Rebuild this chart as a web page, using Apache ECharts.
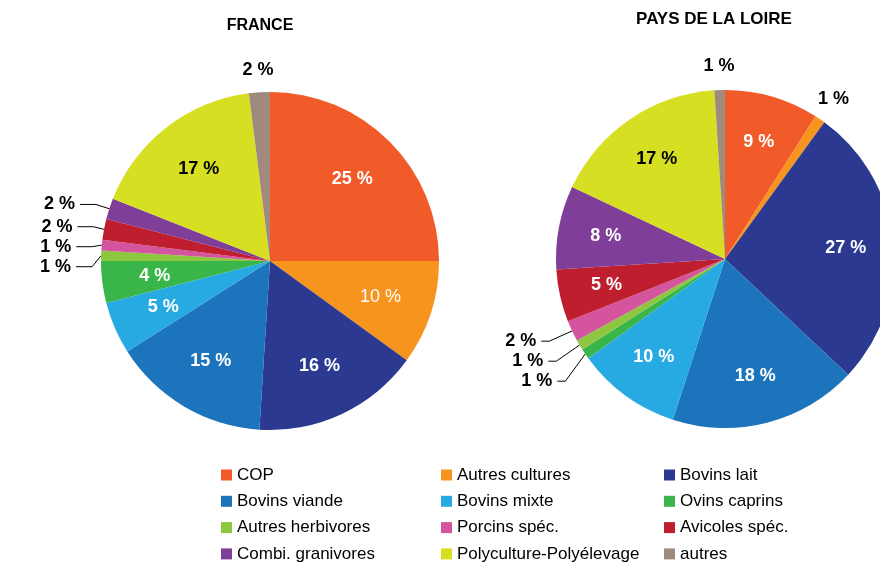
<!DOCTYPE html>
<html><head><meta charset="utf-8">
<script src="https://cdn.jsdelivr.net/npm/echarts@6/dist/echarts.min.js"></script>
<style>html,body{margin:0;padding:0;background:#fff}#c{width:880px;height:562px}</style>
</head><body><div id="c"></div>
<script>
const categories = ['COP','Autres cultures','Bovins lait','Bovins viande','Bovins mixte','Ovins caprins','Autres herbivores','Porcins spéc.','Avicoles spéc.','Combi. granivores','Polyculture-Polyélevage','autres'];
const franceValues = [25,10,16,15,5,4,1,1,2,2,17,2];
const paysLoireValues = [9,1,27,18,10,1,1,2,5,8,17,1];
const titles = ['FRANCE','PAYS DE LA LOIRE'];
const colors = ['#F15A29','#F7941D','#2B3990','#1C75BC','#27AAE1','#39B54A','#8DC63F','#D4559E','#BE1E2D','#7F3F98','#D7DF23','#9E8B7E'];

const FONT = '"Liberation Sans", Arial, sans-serif';
const R = 169;
const centers = [[270,261],[725,259]];

// classify each slice's label placement from its value and angle
function placement(vals){
  const total = vals.reduce((a,b)=>a+b,0);
  let acc = 0;
  return vals.map(v=>{
    const mid = (acc + v/2)/total*360; acc += v;
    if (v > 2) return 'inside';
    const fromTop = Math.min(mid, 360-mid);
    return fromTop < 60 ? 'top' : 'side';
  });
}

function mainSeries(vals, center, len1, len2){
  const pl = placement(vals);
  return {
    type:'pie', center:center, radius:[0,R], startAngle:90, clockwise:true,
    avoidLabelOverlap:true, silent:true,
    itemStyle:{borderWidth:0},
    labelLine:{show:true, length:len1, length2:len2, lineStyle:{color:'#000', width:1}},
    data: vals.map((v,i)=>({
      name:categories[i], value:v, itemStyle:{color:colors[i]},
      label:{show: pl[i]==='side'}, labelLine:{show: pl[i]==='side'}
    })),
    label:{position:'outside', formatter:'{c} %', color:'#000', fontWeight:'bold', fontSize:18, fontFamily:FONT}
  };
}
function overlaySeries(vals, center, kind, labelR){
  const pl = placement(vals);
  return {
    type:'pie', center:center, radius:[0, 2*labelR], startAngle:90, clockwise:true,
    silent:true, itemStyle:{color:'rgba(0,0,0,0)'}, labelLine:{show:false},
    data: vals.map((v,i)=>({
      name:categories[i], value:v,
      label:{show: pl[i]===kind,
        color: (kind==='top' || categories[i]==='Polyculture-Polyélevage') ? '#000' : '#fff',
        fontWeight: (kind==='inside' && categories[i]==='Autres cultures') ? 'normal' : 'bold'}
    })),
    label:{position:'inside', formatter:'{c} %', fontSize:18, fontFamily:FONT}
  };
}
const cols = [[0,3,6,9],[1,4,7,10],[2,5,8,11]];
const colLeft = [216,436,659];
const legends = cols.map((idx,k)=>({
  orient:'vertical', left:colLeft[k], top:461, height:120, itemWidth:11, itemHeight:11, itemGap:8.3,
  icon:'rect', selectedMode:false,
  textStyle:{fontSize:17, fontFamily:FONT, color:'#000', lineHeight:18},
  data: idx.map(i=>({name:categories[i], itemStyle:{color:colors[i]}}))
}));

const chart = echarts.init(document.getElementById('c'));
chart.setOption({
  animation:false,
  graphic:[
    {type:'text', x:260, y:26, style:{text:titles[0], textAlign:'center', textVerticalAlign:'middle', font:'bold 16px '+FONT, fill:'#000'}},
    {type:'text', x:714, y:19, style:{text:titles[1], textAlign:'center', textVerticalAlign:'middle', font:'bold 17px '+FONT, fill:'#000'}}
  ],
  legend: legends,
  series:[
    mainSeries(franceValues, centers[0], 14, 16),
    mainSeries(paysLoireValues, centers[1], 24, 8),
    overlaySeries(franceValues, centers[0], 'inside', 0.67*R),
    overlaySeries(paysLoireValues, centers[1], 'inside', 0.70*R),
    overlaySeries(franceValues, centers[0], 'top', R+19),
    overlaySeries(paysLoireValues, centers[1], 'top', R+21)
  ]
});
</script></body></html>
